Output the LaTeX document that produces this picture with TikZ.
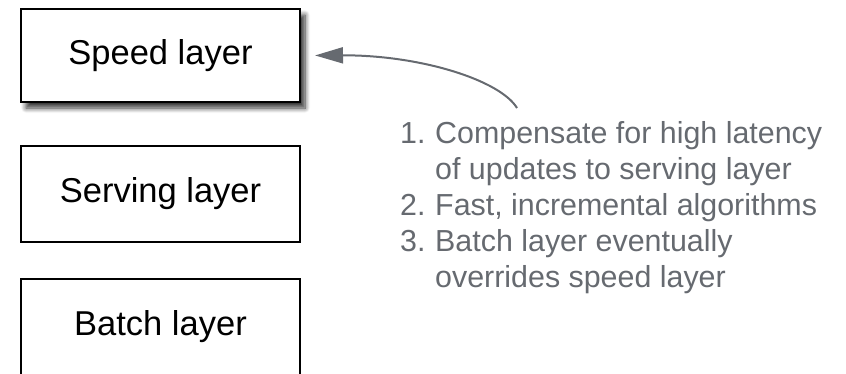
\documentclass[tikz,border=0pt]{standalone}
\usepackage{fontspec}
\setmainfont{Liberation Sans}
\usetikzlibrary{arrows.meta,shadows.blur}

\definecolor{notegray}{HTML}{666A70}

\tikzset{
	layer/.style={draw=black, line width=2pt, fill=white, inner sep=0pt,
		minimum width=279pt, minimum height=96pt, font=\fontsize{34.5}{40}\selectfont},
	note/.style={notegray, inner sep=0pt, font=\fontsize{30.4}{36}\selectfont},
	callout/.style={notegray, line width=2pt, -{Triangle[length=28pt,width=16pt]}},
}

\begin{document}
\begin{tikzpicture}[x=1pt, y=-1pt]
			\useasboundingbox (0,0) rectangle (846,373);
			%%
			\node[layer, minimum height=93pt, blur shadow={shadow xshift=5pt, shadow yshift=-6pt, shadow blur radius=5pt, shadow blur steps=8, shadow opacity=80}] (speed) at (160.5,55.5) {Speed layer};
			\node[layer] (serving) at (160.5,194) {Serving layer};
			\node[layer] (batch) at (160.5,327) {Batch layer};
			%%
			\node[note, anchor=base west] (notes) at (400,143) {\begin{tabular}[t]{@{}p{35pt}@{}l@{}}
				1. & Compensate for high latency\\
				   & of updates to serving layer\\
				2. & Fast, incremental algorithms\\
				3. & Batch layer eventually\\
				   & overrides speed layer
			\end{tabular}};
			%%
			\coordinate (tail) at (517,108);
			\draw[callout, shorten >=14pt] (tail) .. controls (500,80) and (420,55) .. (speed.east);
		\end{tikzpicture}
\end{document}
